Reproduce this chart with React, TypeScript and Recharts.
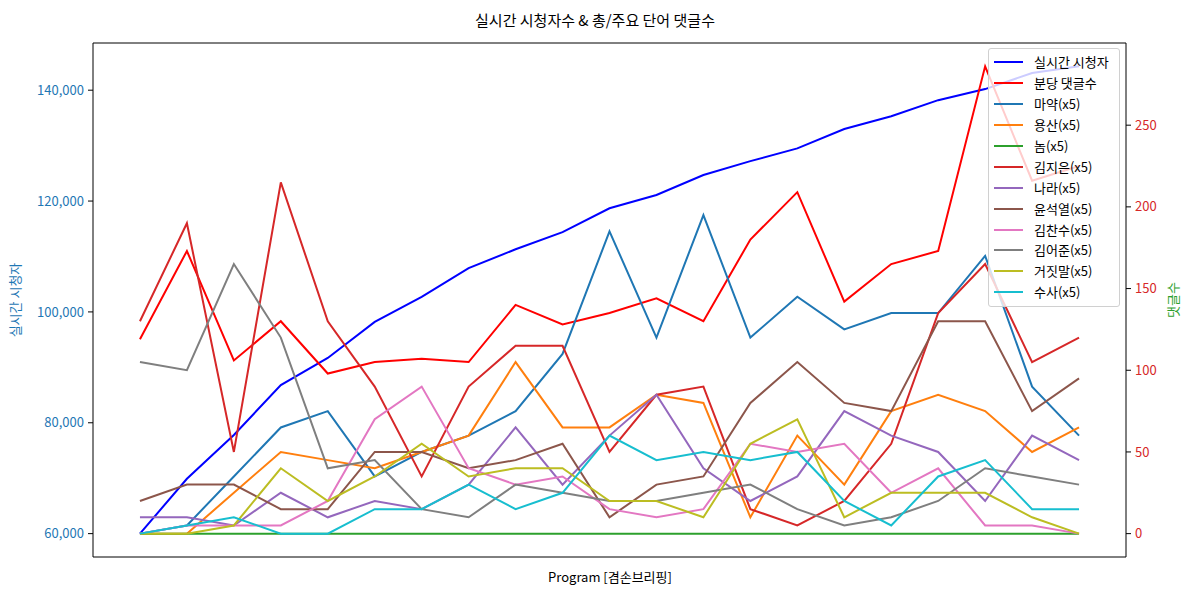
import React from "react";
import { LineChart, Line, XAxis, YAxis, ReferenceLine } from "recharts";

const minutes = [0, 1, 2, 3, 4, 5, 6, 7, 8, 9, 10, 11, 12, 13, 14, 15, 16, 17, 18, 19, 20];
const viewers = [60000, 69900, 77800, 86800, 91700, 98200, 102700, 107900, 111300, 114400, 118700, 121100, 124700, 127200, 129500, 133000, 135300, 138200, 140200, 143100, 144300];
const commentsPerMin = [119, 173, 106, 130, 98, 105, 107, 105, 140, 128, 135, 144, 130, 180, 209, 142, 165, 173, 286, 216, 225];
const maYak = [0, 5, 35, 65, 75, 35, 50, 60, 75, 110, 185, 120, 195, 120, 145, 125, 135, 135, 170, 90, 60];
const yongSan = [0, 0, 25, 50, 45, 40, 50, 60, 105, 65, 65, 85, 80, 10, 60, 30, 75, 85, 75, 50, 65];
const nom = [0, 0, 0, 0, 0, 0, 0, 0, 0, 0, 0, 0, 0, 0, 0, 0, 0, 0, 0, 0, 0];
const kimJieun = [130, 190, 50, 215, 130, 90, 35, 90, 115, 115, 50, 85, 90, 15, 5, 20, 55, 135, 165, 105, 120];
const nara = [10, 10, 5, 25, 10, 20, 15, 30, 65, 30, 60, 85, 40, 20, 35, 75, 60, 50, 20, 60, 45];
const yoon = [20, 30, 30, 15, 15, 50, 50, 40, 45, 55, 10, 30, 35, 80, 105, 80, 75, 130, 130, 75, 95];
const kimChansu = [0, 5, 5, 5, 20, 70, 90, 40, 30, 35, 15, 10, 15, 55, 50, 55, 25, 40, 5, 5, 0];
const kimEojun = [105, 100, 165, 120, 40, 45, 15, 10, 30, 25, 20, 20, 25, 30, 15, 5, 10, 20, 40, 35, 30];
const geojitmal = [0, 0, 5, 40, 20, 35, 55, 35, 40, 40, 20, 20, 10, 55, 70, 10, 25, 25, 25, 10, 0];
const susa = [0, 5, 10, 0, 0, 15, 15, 30, 15, 25, 60, 45, 50, 45, 50, 20, 5, 35, 45, 15, 15];

const leftTicks = [60000, 80000, 100000, 120000, 140000];
const rightTicks = [0, 50, 100, 150, 200, 250];
const leftDomain = [55785, 148515];
const rightDomain = [-14.3, 300.3];

const termSeries = [
  { key: "마약(x5)", values: maYak, color: "#1f77b4" },
  { key: "용산(x5)", values: yongSan, color: "#ff7f0e" },
  { key: "놈(x5)", values: nom, color: "#2ca02c" },
  { key: "김지은(x5)", values: kimJieun, color: "#d62728" },
  { key: "나라(x5)", values: nara, color: "#9467bd" },
  { key: "윤석열(x5)", values: yoon, color: "#8c564b" },
  { key: "김찬수(x5)", values: kimChansu, color: "#e377c2" },
  { key: "김어준(x5)", values: kimEojun, color: "#7f7f7f" },
  { key: "거짓말(x5)", values: geojitmal, color: "#bcbd22" },
  { key: "수사(x5)", values: susa, color: "#17becf" },
];

const data = minutes.map((m, i) => {
  const row: Record<string, number> = { m, viewers: viewers[i], cpm: commentsPerMin[i] };
  termSeries.forEach((s) => {
    row[s.key] = s.values[i];
  });
  return row;
});

const legendItems = [
  { key: "실시간 시청자", color: "#0000ff" },
  { key: "분당 댓글수", color: "#ff0000" },
  ...termSeries.map((s) => ({ key: s.key, color: s.color })),
];

const FONT = '"Noto Sans CJK KR", "Noto Sans", sans-serif';

const LegendBox = () => (
  <div
    style={{
      position: "absolute",
      top: 48,
      left: 988,
      width: 132,
      boxSizing: "border-box",
      padding: "3px 0 3px 0",
      background: "rgba(255,255,255,0.8)",
      border: "1px solid #d0d0d0",
      borderRadius: 3,
      fontFamily: FONT,
      fontSize: 13,
      color: "#000",
    }}
  >
    {legendItems.map((it) => (
      <div key={it.key} style={{ display: "flex", alignItems: "center", height: 20.9 }}>
        <div style={{ width: 29, height: 2, background: it.color, marginLeft: 5, marginRight: 11 }} />
        <span style={{ lineHeight: "20px", whiteSpace: "nowrap" }}>{it.key}</span>
      </div>
    ))}
  </div>
);

export default function App() {
  return (
    <div style={{ position: "relative", width: 1189, height: 592, background: "#fff", fontFamily: FONT }}>
      <style>{"body{margin:0}"}</style>
      <LineChart width={1189} height={592} data={data} margin={{ top: 43, right: 0, bottom: 0, left: 0 }}>
        <XAxis
          dataKey="m"
          type="number"
          domain={[-1, 21]}
          allowDataOverflow
          ticks={[]}
          tick={false}
          tickLine={false}
          height={35}
          axisLine={{ stroke: "#000", strokeWidth: 1 }}
        />
        <YAxis
          yAxisId="left"
          orientation="left"
          width={93}
          domain={leftDomain}
          allowDataOverflow
          ticks={leftTicks}
          interval={0}
          tickFormatter={(v: number) => v.toLocaleString("en-US")}
          tick={{ fill: "#1f77b4", fontSize: 13, fontFamily: FONT }}
          tickSize={5}
          tickMargin={4}
          tickLine={{ stroke: "#000" }}
          axisLine={{ stroke: "#000" }}
        />
        <YAxis
          yAxisId="right"
          orientation="right"
          width={63}
          domain={rightDomain}
          allowDataOverflow
          ticks={rightTicks}
          interval={0}
          tick={{ fill: "#d62728", fontSize: 13, fontFamily: FONT }}
          tickSize={5}
          tickMargin={4}
          tickLine={{ stroke: "#000" }}
          axisLine={{ stroke: "#000" }}
        />
        <ReferenceLine yAxisId="left" y={leftDomain[1]} stroke="#000" strokeWidth={1} ifOverflow="visible" />
        <Line yAxisId="left" dataKey="viewers" stroke="#0000ff" strokeWidth={2} dot={false} isAnimationActive={false} />
        <Line yAxisId="right" dataKey="cpm" stroke="#ff0000" strokeWidth={2} dot={false} isAnimationActive={false} />
        {termSeries.map((s) => (
          <Line
            key={s.key}
            yAxisId="right"
            dataKey={s.key}
            stroke={s.color}
            strokeWidth={2}
            dot={false}
            isAnimationActive={false}
          />
        ))}
      </LineChart>
      <LegendBox />
      <svg
        width={1189}
        height={592}
        style={{ position: "absolute", left: 0, top: 0, pointerEvents: "none" }}
      >
        <text x={595} y={19} textAnchor="middle" dominantBaseline="central" fontSize={15} fontFamily={FONT} fill="#000">
          실시간 시청자수 &amp; 총/주요 단어 댓글수
        </text>
        <text x={610} y={576} textAnchor="middle" dominantBaseline="central" fontSize={13} fontFamily={FONT} fill="#000">
          Program [겸손브리핑]
        </text>
        <text
          x={14}
          y={300}
          transform="rotate(-90 14 300)"
          textAnchor="middle"
          dominantBaseline="central"
          fontSize={13}
          fontFamily={FONT}
          fill="#1f77b4"
        >
          실시간 시청자
        </text>
        <text
          x={1172}
          y={300}
          transform="rotate(-90 1172 300)"
          textAnchor="middle"
          dominantBaseline="central"
          fontSize={13}
          fontFamily={FONT}
          fill="#2ca02c"
        >
          댓글수
        </text>
      </svg>
    </div>
  );
}
